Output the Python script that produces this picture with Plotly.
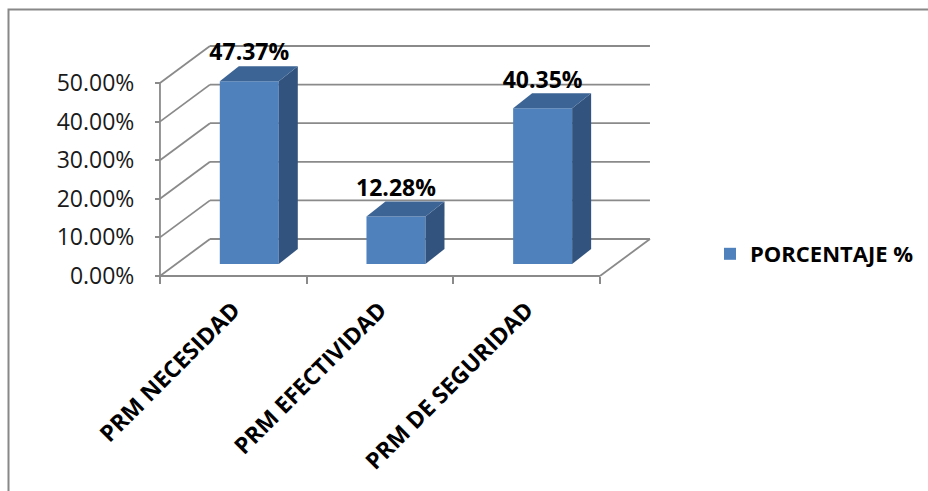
import plotly.graph_objects as go

# ---- data ----
categories = ["PRM NECESIDAD", "PRM EFECTIVIDAD", "PRM DE SEGURIDAD"]
values = [47.37, 12.28, 40.35]
value_labels = ["47.37%", "12.28%", "40.35%"]
y_ticks = [0, 10, 20, 30, 40, 50]
y_tick_labels = ["0.00%", "10.00%", "20.00%", "30.00%", "40.00%", "50.00%"]
series_name = "PORCENTAJE %"

# ---- geometry / style (oblique 3D projection in data units) ----
W, H = 928, 491
PX_PER_CAT = 146.67
PX_PER_PCT = 3.86
CAT0_PIX = 233.3
ZERO_PIX = 276.0
XMIN = -CAT0_PIX / PX_PER_CAT
XMAX = XMIN + W / PX_PER_CAT
YMAX = ZERO_PIX / PX_PER_PCT
YMIN = -(H - ZERO_PIX) / PX_PER_PCT

DXF, DYF = 50 / PX_PER_CAT, 37 / PX_PER_PCT          # full depth of the box
FX, FY = 16 / PX_PER_CAT, 12 / PX_PER_PCT            # bar front-face offset
BDX, BDY = 19 / PX_PER_CAT, 15 / PX_PER_PCT          # bar depth
BAR_W = 59 / PX_PER_CAT

FRONT = "#4F81BD"
TOP = "#3C6495"
SIDE = "#32537D"
GRID = "#8A8A8A"
FONT = "Open Sans"

n = len(categories)
xl_edge, xr_edge = -0.5, n - 0.5

fig = go.Figure()

# front faces
fig.add_trace(go.Bar(
    x=[i + FX for i in range(n)], y=values, base=[FY] * n, width=BAR_W,
    marker=dict(color=FRONT, line=dict(width=0)), name=series_name,
    showlegend=True, hoverinfo="skip"))

# side and top faces
for i, v in enumerate(values):
    xl = i + FX - BAR_W / 2
    xr = i + FX + BAR_W / 2
    top = FY + v
    fig.add_trace(go.Scatter(
        x=[xr, xr, xr + BDX, xr + BDX, xr], y=[FY, top, top + BDY, FY + BDY, FY],
        fill="toself", fillcolor=SIDE, mode="lines", line=dict(width=0),
        showlegend=False, hoverinfo="skip"))
    fig.add_trace(go.Scatter(
        x=[xl, xr, xr + BDX, xl + BDX, xl], y=[top, top, top + BDY, top + BDY, top],
        fill="toself", fillcolor=TOP, mode="lines", line=dict(width=0),
        showlegend=False, hoverinfo="skip"))

# value labels
fig.add_trace(go.Scatter(
    x=[i + FX for i in range(n)], y=[FY + v + BDY for v in values],
    mode="text", text=value_labels, textposition="top center",
    textfont=dict(family=FONT, size=23, color="black", weight="bold"),
    showlegend=False, hoverinfo="skip", cliponaxis=False))

# gridlines: left wall + back wall
shapes = []
gl = dict(color=GRID, width=1.8)
for v in y_ticks:
    shapes.append(dict(type="line", xref="x", yref="y", layer="below",
                       x0=xl_edge, y0=v, x1=xl_edge + DXF, y1=v + DYF, line=gl))
    shapes.append(dict(type="line", xref="x", yref="y", layer="below",
                       x0=xl_edge + DXF, y0=v + DYF, x1=xr_edge + DXF, y1=v + DYF, line=gl))
# floor front edge and right edge, front vertical axis
shapes.append(dict(type="line", xref="x", yref="y", layer="below",
                   x0=xl_edge, y0=0, x1=xr_edge, y1=0, line=gl))
shapes.append(dict(type="line", xref="x", yref="y", layer="below",
                   x0=xr_edge, y0=0, x1=xr_edge + DXF, y1=DYF, line=gl))
shapes.append(dict(type="line", xref="x", yref="y", layer="below",
                   x0=xl_edge, y0=0, x1=xl_edge, y1=max(y_ticks), line=gl))
# outer frame
shapes.append(dict(type="rect", xref="paper", yref="paper",
                   x0=8.5 / W, y0=-0.02, x1=1.02, y1=1 - 9.5 / H,
                   line=dict(color="#888888", width=2)))

fig.update_layout(
    width=W, height=H, margin=dict(l=0, r=0, t=0, b=0),
    paper_bgcolor="white", plot_bgcolor="white",
    shapes=shapes,
    showlegend=True,
    legend=dict(x=710 / W, y=1 - 254 / H, xanchor="left", yanchor="middle",
                font=dict(family=FONT, size=22, color="black", weight="bold"),
                bgcolor="rgba(0,0,0,0)"),
    xaxis=dict(domain=[0, 1], range=[XMIN, XMAX], anchor="free",
               position=(H - ZERO_PIX) / H,
               tickvals=[i - 0.5 for i in range(n + 1)], showticklabels=False,
               ticks="outside", ticklen=7, tickwidth=1.8, tickcolor=GRID,
               showgrid=False, zeroline=False, showline=False, fixedrange=True),
    xaxis2=dict(overlaying="x", matches="x", range=[XMIN, XMAX], anchor="free",
                position=(H - ZERO_PIX) / H,
                tickvals=list(range(n)), ticktext=categories, tickangle=-45,
                ticks="", ticklabelstandoff=15,
                tickfont=dict(family=FONT, size=23, color="black", weight="bold"),
                showgrid=False, zeroline=False, showline=False),
    yaxis=dict(domain=[0, 1], range=[YMIN, YMAX], anchor="free",
               position=160 / W,
               tickvals=y_ticks, ticktext=y_tick_labels,
               ticks="outside", ticklen=5, tickwidth=1.8, tickcolor=GRID,
               ticklabelstandoff=16,
               tickfont=dict(family=FONT, size=23, color="#1a1a1a"),
               showgrid=False, zeroline=False, showline=False, fixedrange=True),
)
# invisible trace to activate xaxis2
fig.add_trace(go.Scatter(x=[0], y=[0], xaxis="x2", mode="markers",
                         marker=dict(opacity=0), showlegend=False, hoverinfo="skip"))

fig.write_html("out.html")
